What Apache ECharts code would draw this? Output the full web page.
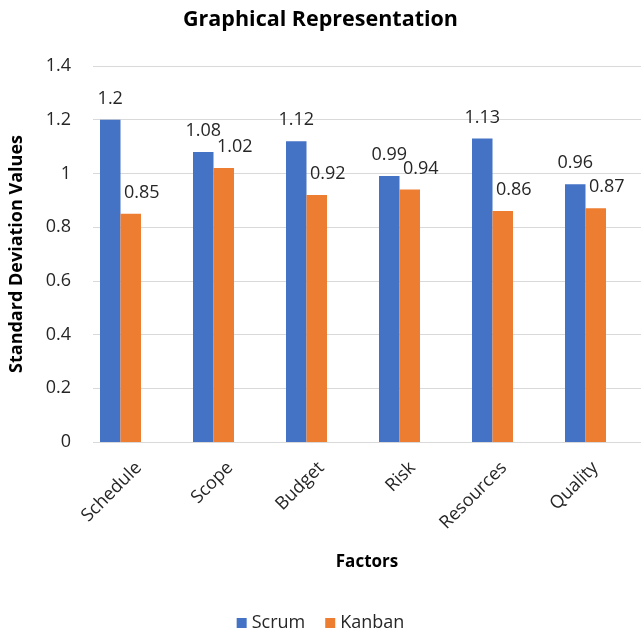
<!DOCTYPE html>
<html><head><meta charset="utf-8">
<script src="https://cdn.jsdelivr.net/npm/echarts@6/dist/echarts.min.js"></script>
<style>html,body{margin:0;padding:0;background:#fff}#c{width:641px;height:639px}</style>
</head><body><div id="c"></div>
<script>
const categories = ['Schedule', 'Scope', 'Budget', 'Risk', 'Resources', 'Quality'];
const scrum = [1.2, 1.08, 1.12, 0.99, 1.13, 0.96];
const kanban = [0.85, 1.02, 0.92, 0.94, 0.86, 0.87];
const yTicks = [0, 0.2, 0.4, 0.6, 0.8, 1, 1.2, 1.4];

const FONT = 'Open Sans';
const chart = echarts.init(document.getElementById('c'));
chart.setOption({
  animation: false,
  textStyle: { fontFamily: FONT },
  title: { text: 'Graphical Representation', left: 'center', top: 4,
    textStyle: { fontFamily: FONT, fontWeight: 'bold', fontSize: 21.5, color: '#000' } },
  legend: { bottom: 2, left: 'center', itemWidth: 10, itemHeight: 10, itemGap: 20,
    icon: 'rect', textStyle: { fontFamily: FONT, fontSize: 18, color: '#262626' },
    data: ['Scrum', 'Kanban'] },
  grid: [
    { left: 84, right: 0, top: 66, bottom: 197 },
    { left: 74, right: 9, top: 66, bottom: 197 }
  ],
  xAxis: [
    { type: 'category', gridIndex: 0, data: categories,
      axisLine: { show: false }, axisTick: { show: false },
      axisLabel: { rotate: 45, fontFamily: FONT, fontSize: 18, color: '#262626', margin: 23 },
      name: 'Factors', nameLocation: 'middle', nameGap: 112,
      nameTextStyle: { fontFamily: FONT, fontWeight: 'bold', fontSize: 17, color: '#000' } },
    { type: 'category', gridIndex: 1, data: categories,
      axisLine: { show: false }, axisTick: { show: false }, axisLabel: { show: false } }
  ],
  yAxis: [
    { type: 'value', gridIndex: 0, min: 0, max: 1.4, interval: 0.2,
      axisLine: { show: false }, axisTick: { show: false },
      axisLabel: { fontFamily: FONT, fontSize: 18, color: '#262626', margin: 22,
        formatter: v => { const t = yTicks.find(x => Math.abs(x - v) < 1e-9); return String(t); } },
      splitLine: { lineStyle: { color: '#d9d9d9', width: 1 } },
      name: 'Standard Deviation Values', nameLocation: 'middle', nameGap: 67,
      nameTextStyle: { fontFamily: FONT, fontWeight: 'bold', fontSize: 18, color: '#000' } },
    { type: 'value', gridIndex: 1, min: 0, max: 1.4, interval: 0.2, show: false,
      splitLine: { show: false } }
  ],
  series: [
    { name: 'Scrum', type: 'bar', xAxisIndex: 1, yAxisIndex: 1, data: scrum,
      barWidth: 20.5, barGap: '0%', itemStyle: { color: '#4472C4' },
      label: { show: true, position: 'top', distance: 12, fontFamily: FONT, fontSize: 18, color: '#262626' } },
    { name: 'Kanban', type: 'bar', xAxisIndex: 1, yAxisIndex: 1, data: kanban,
      barWidth: 20.5, barGap: '0%', itemStyle: { color: '#ED7D31' },
      label: { show: true, position: 'top', distance: 12, offset: [11, 0], fontFamily: FONT, fontSize: 18, color: '#262626' } }
  ]
});
</script></body></html>
